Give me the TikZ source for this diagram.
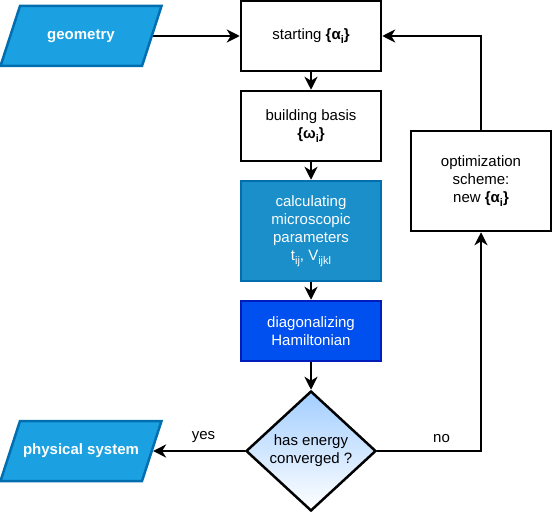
\documentclass[tikz,border=0pt]{standalone}
\usepackage{fontspec}
\setmainfont{Liberation Sans}
\usepackage{xcolor}
\usetikzlibrary{arrows.meta}
\usetikzlibrary{shapes.geometric}
\usetikzlibrary{calc}
\definecolor{geofill}{HTML}{1BA1E2}
\definecolor{geoline}{HTML}{006EAF}
\definecolor{calcfill}{HTML}{1A8FC9}
\definecolor{diagfill}{HTML}{0050EF}
\definecolor{diagline}{HTML}{001DBC}
\definecolor{convtop}{HTML}{A2CEFF}
\newcommand{\lowidx}[1]{\raisebox{-3.5pt}{\fontsize{11}{11}\selectfont #1}}

\begin{document}
\begin{tikzpicture}[x=1pt,y=-1pt]
\tikzset{>={Stealth[length=13pt,width=13pt,inset=4pt]}}
\tikzstyle{txt} =[font=\fontsize{15}{18}\selectfont,align=center]
\tikzstyle{stepbox} =[txt,rectangle,draw=black,line width=2.5pt,fill=white,minimum width=140pt,minimum height=70pt,inner sep=2pt]
\tikzstyle{iobox} =[txt,trapezium,trapezium left angle=72,trapezium right angle=108,trapezium stretches body,draw=geoline,line width=2.5pt,fill=geofill,text=white,font=\fontsize{15}{18}\selectfont\bfseries,text height=11pt,text depth=4pt,inner ysep=22.5pt,inner xsep=2pt,minimum width=161pt]
\tikzstyle{decision} =[txt,diamond,draw=black,line width=2.5pt,top color=convtop,bottom color=white,aspect=1.08,minimum width=130pt,minimum height=120pt,inner sep=0pt]
\tikzstyle{link} =[->,line width=2.5pt]
\useasboundingbox (0,0) rectangle (553,513);
\node[iobox](geo) at (81,36){geometry};
\node[stepbox](start) at (311,36){starting \textbf{\{α\lowidx{i}\}}};
\node[stepbox](basis) at (311,126){building basis\\\textbf{\{ω\lowidx{i}\}}};
\node[stepbox,minimum height=100pt,draw=geoline,fill=calcfill,text=white](calc) at (311,231){calculating\\microscopic\\parameters\\t\lowidx{ij}, V\lowidx{ijkl}};
\node[stepbox,minimum height=60pt,draw=diagline,fill=diagfill,text=white](diag) at (311,331){diagonalizing\\Hamiltonian};
\node[decision](conv) at (311,451){has energy\\converged ?};
\node[iobox](phys) at (81,451){physical system};
\node[stepbox,minimum height=100pt](opt) at (481,181){optimization\\scheme:\\new \textbf{\{α\lowidx{i}\}}};
\coordinate (geoout) at ($(geo.top right corner)!0.5!(geo.bottom right corner)$);
\coordinate (physin) at ($(phys.top right corner)!0.5!(phys.bottom right corner)$);
\coordinate (turn) at (481,451);
\draw [link] (geoout) -- (start.west);
\draw [link] (start) -- (basis);
\draw [link] (basis) -- (calc);
\draw [link] (calc) -- (diag);
\draw [link] (diag) -- (conv);
\draw [link] (conv.west) -- node[txt,pos=0.45,above=4pt]{yes} (physin);
\draw [link] (conv.east) -- node[txt,pos=0.62,above=4pt]{no} (turn) -- (opt.south);
\draw [link] (opt.north) |- (start.east);
\end{tikzpicture}
\end{document}
